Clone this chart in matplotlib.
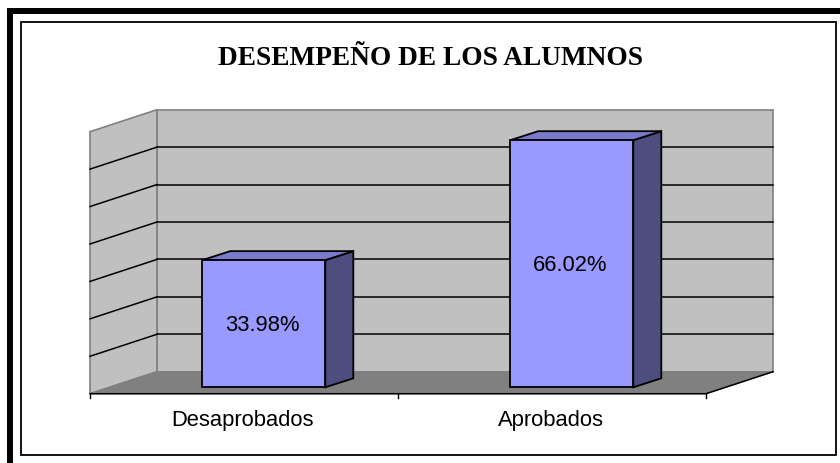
import numpy as np
import matplotlib
matplotlib.use('Agg')
import matplotlib.pyplot as plt
from matplotlib.patches import Polygon, Rectangle

categories = ['Desaprobados', 'Aprobados']
values = [33.98, 66.02]
labels = ['33.98%', '66.02%']
grid_values = [0, 10, 20, 30, 40, 50, 60, 70]
title = 'DESEMPEÑO DE LOS ALUMNOS'

W, H = 840, 464
wall = '#c0c0c0'
floor = '#808080'
bar_front = '#9999ff'
bar_top = '#7a7acc'
bar_side = '#4d4d80'

fig = plt.figure(figsize=(W/100, H/100), dpi=100, facecolor='white')

# page frame, in pixels
bg = fig.add_axes([0, 0, 1, 1])
bg.set_xlim(0, W)
bg.set_ylim(H, 0)
bg.axis('off')
bg.plot([10, 10], [H, 12], color='black', lw=4.3, solid_capstyle='butt')
bg.plot([7, W], [12, 12], color='black', lw=4.3, solid_capstyle='butt')
bg.add_patch(Rectangle((21, 23), 815, 433, fill=False, ec='black', lw=1.3))
bg.text(430, 58.5, title, ha='center', va='center', family='Liberation Serif',
        weight='bold', size=19.7, color='black')

# front plane of the 3d box: x in category units, y in percent
ax = fig.add_axes([90/W, 1-394.7/H, 616/W, 262/H])
ax.set_xlim(0, 2)
ax.set_ylim(0, 70)
ax.axis('off')

px = 2/616
py = 70/262
dx = 67*px    # box depth
dy = 22*py


def poly(pts, fc, ec, lw=1.0, z=1):
    ax.add_patch(Polygon(pts, closed=True, fc=fc, ec=ec, lw=lw, zorder=z,
                         clip_on=False, joinstyle='miter'))


# walls and floor
poly([(dx, dy), (2+dx, dy), (2+dx, 70+dy), (dx, 70+dy)], wall, floor, 1.2, 1)
poly([(0, 0), (dx, dy), (dx, 70+dy), (0, 70)], wall, floor, 1.2, 1)
poly([(0, 0), (2, 0), (2+dx, dy), (dx, dy)], floor, floor, 1.0, 1)

# gridlines, back wall and side wall
for g in grid_values[1:-1]:
    ax.plot([dx, 2+dx], [g+dy, g+dy], color='black', lw=1.1, zorder=2, clip_on=False)
    ax.plot([0, dx], [g, g+dy], color='black', lw=1.1, zorder=2, clip_on=False)

# axis line, ticks
ax.plot([0, 2, 2+dx], [0, 0, dy], color='black', lw=1.1, zorder=3, clip_on=False)
for t in range(3):
    ax.plot([t, t], [0, -4.5*py], color='black', lw=1.0, zorder=3, clip_on=False)

# bars
bar_w = 123*px
off_x = 19.8*px
off_y = 6.4*py
bar_dx = 28*px
bar_dy = 9*py
for i, (v, lab, cat) in enumerate(zip(values, labels, categories)):
    x0 = i + 0.5 - bar_w/2 + off_x
    x1 = x0 + bar_w
    y0 = off_y
    y1 = off_y + v
    poly([(x1, y0), (x1+bar_dx, y0+bar_dy), (x1+bar_dx, y1+bar_dy), (x1, y1)],
         bar_side, 'black', 1.3, 4)
    poly([(x0, y1), (x1, y1), (x1+bar_dx, y1+bar_dy), (x0+bar_dx, y1+bar_dy)],
         bar_top, 'black', 1.3, 4)
    poly([(x0, y0), (x1, y0), (x1, y1), (x0, y1)], bar_front, 'black', 1.3, 5)
    ax.text((x0+x1)/2 - 1.5*px, (y0+y1)/2 - 0.7*py, lab, ha='center', va='center',
            family='Liberation Sans', size=15.8, color='black', zorder=6)
    ax.text(i+0.5-0.005, -26*py, cat, ha='center', va='center',
            family='Liberation Sans', size=15.8, color='black')

fig.savefig('out.png', dpi=100)
